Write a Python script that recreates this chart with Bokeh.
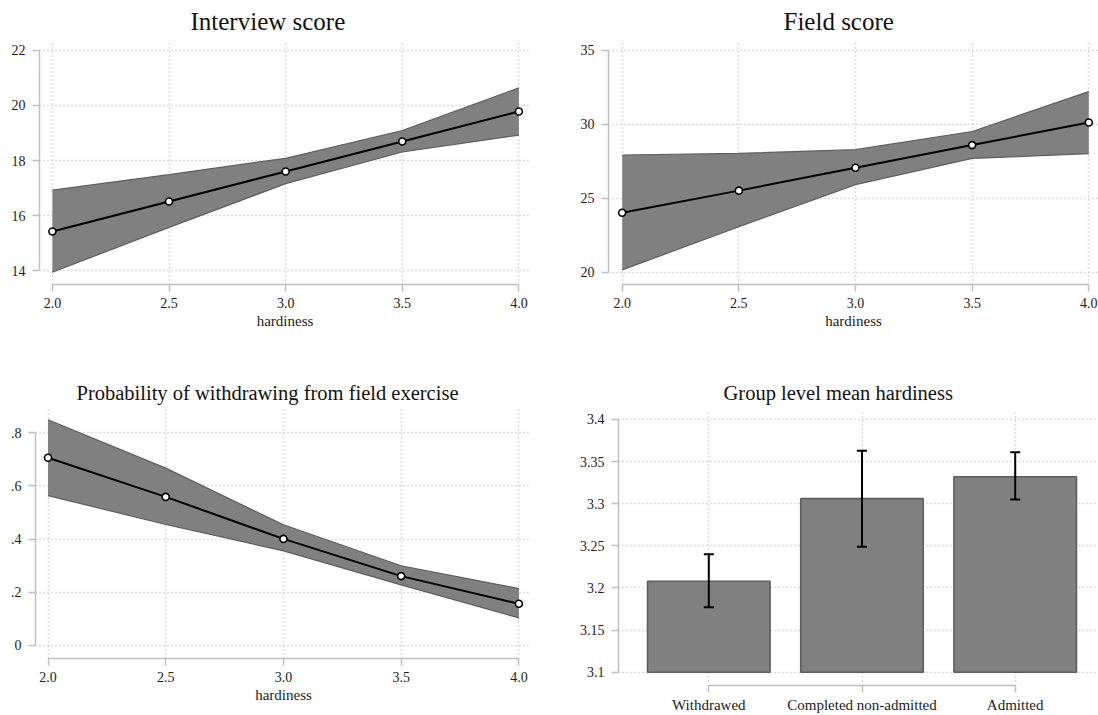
from bokeh.plotting import figure
from bokeh.models import Range1d, FixedTicker, CustomJSTickFormatter, ColumnDataSource, Whisker, TeeHead
from bokeh.layouts import column, row
from bokeh.embed import file_html
from bokeh.resources import INLINE

# ---------------- data ----------------
hardiness = [2.0, 2.5, 3.0, 3.5, 4.0]
hardiness_ticks = [2.0, 2.5, 3.0, 3.5, 4.0]

interview_mean = [15.42, 16.51, 17.60, 18.69, 19.78]
interview_upper = [16.92, 17.49, 18.08, 19.09, 20.64]
interview_lower = [13.94, 15.57, 17.16, 18.31, 18.92]
interview_ticks = [14, 16, 18, 20, 22]

field_mean = [24.02, 25.52, 27.07, 28.60, 30.13]
field_upper = [27.93, 28.04, 28.29, 29.52, 32.22]
field_lower = [20.16, 23.08, 25.93, 27.70, 28.02]
field_ticks = [20, 25, 30, 35]

withdraw_mean = [0.706, 0.559, 0.401, 0.261, 0.157]
withdraw_upper = [0.849, 0.667, 0.454, 0.300, 0.214]
withdraw_lower = [0.564, 0.455, 0.356, 0.228, 0.104]
withdraw_ticks = [0.0, 0.2, 0.4, 0.6, 0.8]

groups = ["Withdrawed", "Completed non-admitted", "Admitted"]
group_pos = [1, 2, 3]
group_mean = [3.208, 3.306, 3.332]
group_upper = [3.240, 3.363, 3.361]
group_lower = [3.177, 3.249, 3.305]
group_ticks = [3.1, 3.15, 3.2, 3.25, 3.3, 3.35, 3.4]

# ---------------- style ----------------
FONT = "Liberation Serif"
TXT = "#1c1c1c"
AXIS_C = "#c0c0c0"
GRID_C = "#b8b8b8"
BAND_FILL = "#808080"
BAND_LINE = "#5e5e5e"


def make_fig(w, h, mbl, mbr, mbt, mbb, xr, yr, title, tsize, toffset, tstand):
    p = figure(width=w, height=h, x_range=Range1d(*xr), y_range=Range1d(*yr),
               output_backend="svg", toolbar_location=None,
               min_border_left=mbl, min_border_right=mbr,
               min_border_top=mbt, min_border_bottom=mbb,
               title=title)
    p.outline_line_color = None
    p.background_fill_color = "white"
    p.border_fill_color = "white"
    p.title.align = "left"
    p.title.offset = toffset
    p.title.standoff = tstand
    p.title.text_font = FONT
    p.title.text_font_size = tsize
    p.title.text_font_style = "normal"
    p.title.text_color = "#111111"
    for ax in (p.xaxis[0], p.yaxis[0]):
        ax.axis_line_color = AXIS_C
        ax.axis_line_width = 1.5
        ax.major_tick_line_color = AXIS_C
        ax.major_tick_line_width = 1.5
        ax.major_tick_in = 0
        ax.major_tick_out = 7
        ax.minor_tick_line_color = None
        ax.major_label_text_font = FONT
        ax.major_label_text_font_size = "14px"
        ax.major_label_text_color = TXT
        ax.axis_label_text_font = FONT
        ax.axis_label_text_font_size = "15px"
        ax.axis_label_text_font_style = "normal"
        ax.axis_label_text_color = TXT
    p.xaxis.major_label_standoff = 6
    p.yaxis.major_label_standoff = 7
    p.xaxis.axis_label_standoff = 2
    for g in (p.xgrid[0], p.ygrid[0]):
        g.grid_line_color = GRID_C
        g.grid_line_dash = "1 3"
        g.grid_line_width = 1.5
    return p


def line_panel(p, x, mean, lo, up, xticks, yticks):
    p.varea(x=x, y1=lo, y2=up, fill_color=BAND_FILL)
    p.line(x=x, y=up, line_color=BAND_LINE, line_width=1.2)
    p.line(x=x, y=lo, line_color=BAND_LINE, line_width=1.2)
    p.line(x=x, y=mean, line_color="black", line_width=2)
    p.scatter(x=x, y=mean, size=7, marker="circle", fill_color="white",
              line_color="black", line_width=1.6)
    p.xaxis.ticker = FixedTicker(ticks=xticks)
    p.yaxis.ticker = FixedTicker(ticks=yticks)
    p.xgrid.ticker = FixedTicker(ticks=xticks)
    p.ygrid.ticker = FixedTicker(ticks=yticks)
    p.xaxis.bounds = (xticks[0], xticks[-1])
    p.yaxis.bounds = (yticks[0], yticks[-1])
    p.xaxis.axis_label = "hardiness"
    p.xaxis.formatter = CustomJSTickFormatter(code="return tick.toFixed(1);")


# Top-left: Interview score
p1 = make_fig(555, 357, 39, 25, 39, 73, (1.9447, 4.0497), (13.493, 22.362),
              "Interview score", "25px", 151, 11)
line_panel(p1, hardiness, interview_mean, interview_lower, interview_upper,
           hardiness_ticks, interview_ticks)

# Top-right: Field score
p2 = make_fig(543, 357, 53, 0, 39, 73, (1.9413, 4.0416), (19.172, 35.674),
              "Field score", "25px", 175, 11)
line_panel(p2, hardiness, field_mean, field_lower, field_upper,
           hardiness_ticks, field_ticks)

# Bottom-left: Probability of withdrawing
p3 = make_fig(555, 358, 35, 24, 51, 57, (1.9469, 4.0535), (-0.0489, 0.8914),
              "Probability of withdrawing from field exercise", "20.5px", 41, 10)
line_panel(p3, hardiness, withdraw_mean, withdraw_lower, withdraw_upper,
           hardiness_ticks, withdraw_ticks)
p3.yaxis.formatter = CustomJSTickFormatter(
    code="if (Math.abs(tick) < 1e-9) { return '0'; } return tick.toFixed(1).replace(/^0/, '');")

# Bottom-right: Group level mean hardiness
p4 = make_fig(543, 358, 63, 0, 52, 29, (0.4106, 3.5437), (3.08427, 3.41182),
              "Group level mean hardiness", "20.5px", 105, 11)
src = ColumnDataSource(data=dict(x=group_pos, top=group_mean,
                                 upper=group_upper, lower=group_lower))
p4.vbar(x="x", top="top", bottom=group_ticks[0], width=0.8, source=src,
        fill_color=BAND_FILL, line_color=BAND_LINE, line_width=1.6)
wh = Whisker(source=src, base="x", upper="upper", lower="lower",
             line_color="black", line_width=2,
             upper_head=TeeHead(size=10, line_width=2, line_color="black"),
             lower_head=TeeHead(size=10, line_width=2, line_color="black"))
wh.level = "annotation"
p4.add_layout(wh)
p4.xaxis.ticker = FixedTicker(ticks=group_pos)
p4.xgrid.ticker = FixedTicker(ticks=group_pos)
p4.yaxis.ticker = FixedTicker(ticks=group_ticks)
p4.ygrid.ticker = FixedTicker(ticks=group_ticks)
p4.xaxis.bounds = (group_pos[0], group_pos[-1])
p4.yaxis.bounds = (group_ticks[0], group_ticks[-1])
p4.xaxis.major_label_overrides = {k: v for k, v in zip(group_pos, groups)}
p4.xaxis.major_label_standoff = 4
p4.xaxis.major_label_text_font_size = "15px"
p4.yaxis.formatter = CustomJSTickFormatter(
    code="return String(parseFloat(tick.toFixed(2)));")

layout = column(row(column(p1), column(p2)), row(column(p3), column(p4)))

open("out.html", "w").write(file_html(layout, INLINE))
